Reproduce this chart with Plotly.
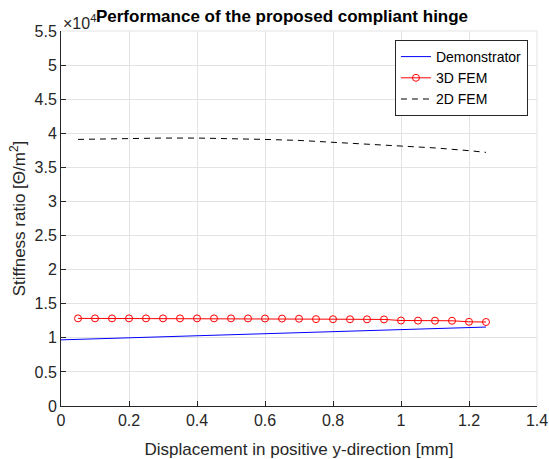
import plotly.graph_objects as go

demo_x = [0.0, 0.25, 0.5, 0.75, 1.0, 1.25]
demo_y = [9700, 10060, 10430, 10800, 11190, 11580]

fem3d_x = [0.05, 0.10, 0.15, 0.20, 0.25, 0.30, 0.35, 0.40, 0.45, 0.50, 0.55, 0.60, 0.65,
           0.70, 0.75, 0.80, 0.85, 0.90, 0.95, 1.00, 1.05, 1.10, 1.15, 1.20, 1.25]
fem3d_y = [12850, 12850, 12850, 12850, 12850, 12850, 12850, 12850, 12850, 12850, 12840, 12830, 12820,
           12800, 12740, 12730, 12720, 12710, 12700, 12540, 12520, 12510, 12500, 12350, 12320]

fem2d_x = [0.05, 0.1, 0.2, 0.3, 0.4, 0.5, 0.6, 0.7, 0.8, 0.9, 1.0, 1.1, 1.2, 1.25]
fem2d_y = [39100, 39150, 39250, 39300, 39300, 39250, 39100, 38950, 38700, 38450, 38150, 37850, 37450, 37200]

x_ticks = [0, 0.2, 0.4, 0.6, 0.8, 1.0, 1.2, 1.4]
y_ticks = [0, 5000, 10000, 15000, 20000, 25000, 30000, 35000, 40000, 45000, 50000, 55000]

def fmt(v):
    s = f"{v:.1f}"
    return s[:-2] if s.endswith(".0") else s

FONT = "Liberation Sans, Arial, sans-serif"

fig = go.Figure()
fig.add_trace(go.Scatter(x=demo_x, y=demo_y, mode="lines", name="Demonstrator",
                         line=dict(color="#0000ff", width=1)))
fig.add_trace(go.Scatter(x=fem3d_x, y=fem3d_y, mode="lines+markers", name="3D FEM",
                         line=dict(color="#ff0000", width=1),
                         marker=dict(symbol="circle-open", size=7, color="#ff0000", line=dict(width=1))))
fig.add_trace(go.Scatter(x=fem2d_x, y=fem2d_y, mode="lines", name="2D FEM",
                         line=dict(color="#000000", width=1, dash="6px,5px")))

fig.update_layout(
    width=549, height=459,
    margin=dict(l=61, r=12, t=31, b=53, autoexpand=False),
    paper_bgcolor="white", plot_bgcolor="white",
    font=dict(family=FONT, size=16, color="#262626"),
    title=dict(text="<b>Performance of the proposed compliant hinge</b>",
               x=0.5137, xanchor="center", y=0.965, yanchor="middle",
               font=dict(size=17, color="black")),
    xaxis=dict(range=[0, 1.4], tickvals=x_ticks, ticktext=[fmt(v) for v in x_ticks],
               showgrid=True, gridcolor="#e3e3e3", gridwidth=1,
               showline=True, linecolor="#262626", linewidth=1, mirror=False,
               ticks="inside", ticklen=5, tickcolor="#262626", zeroline=False,
               automargin=False,
               title=dict(text="Displacement in positive y-direction [mm]", font=dict(size=17), standoff=17),
               tickfont=dict(size=16)),
    yaxis=dict(range=[0, 55000], tickvals=y_ticks, ticktext=[fmt(v / 10000) for v in y_ticks],
               showgrid=True, gridcolor="#e3e3e3", gridwidth=1,
               showline=True, linecolor="#262626", linewidth=1, mirror=False,
               ticks="inside", ticklen=5, tickcolor="#262626", zeroline=False,
               automargin=False,
               title=dict(text="Stiffness ratio [Θ/m<sup>2</sup>]", font=dict(size=17), standoff=4),
               tickfont=dict(size=16)),
    legend=dict(x=0.981, y=0.976, xanchor="right", yanchor="top",
                bgcolor="white", bordercolor="#262626", borderwidth=1,
                font=dict(size=14, color="black"), tracegroupgap=0, itemwidth=30),
    showlegend=True,
)

fig.add_shape(type="line", xref="paper", yref="paper", x0=1, x1=1, y0=0, y1=1,
              line=dict(color="#e3e3e3", width=1))
fig.add_shape(type="line", xref="paper", yref="paper", x0=0, x1=1, y0=1, y1=1,
              line=dict(color="#e3e3e3", width=1))

fig.add_annotation(text="×10<sup>4</sup>", xref="paper", yref="paper", x=0, y=1.0,
                   xanchor="left", yanchor="bottom", showarrow=False,
                   font=dict(size=16, color="#262626"), yshift=-3)

fig.write_html("out.html", config={"displayModeBar": False},
               post_script="document.body.style.margin='0';")
